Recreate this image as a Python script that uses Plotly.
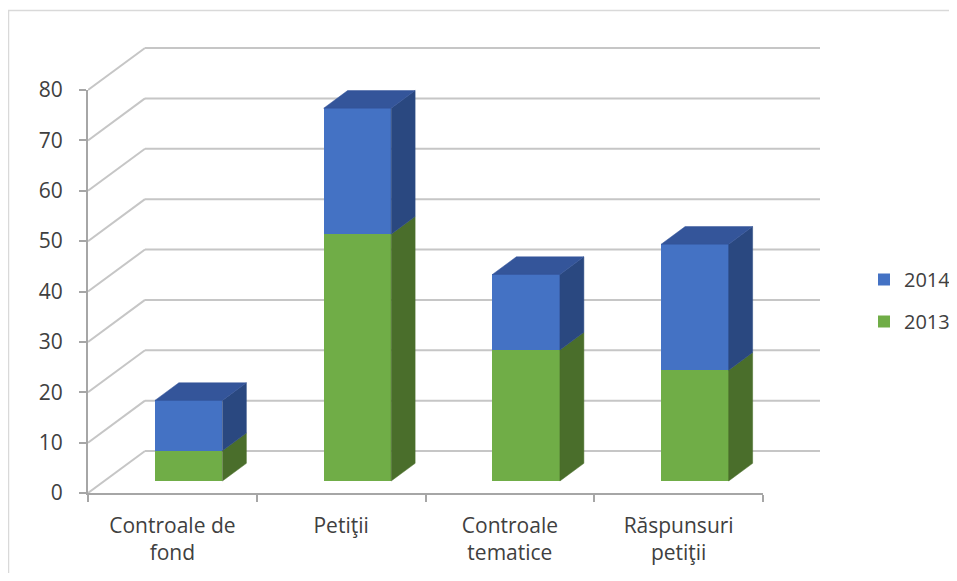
import plotly.graph_objects as go

# ---------------- data ----------------
categories = ["Controale de<br>fond", "Petiţii", "Controale<br>tematice", "Răspunsuri<br>petiţii"]
values_2013 = [6, 49, 26, 22]
values_2014 = [10, 25, 15, 25]
y_ticks = [0, 10, 20, 30, 40, 50, 60, 70, 80]

# ---------------- styling / geometry ----------------
# the page body adds an 8px margin, so the figure starts at screen (8, 8);
# keep the figure small enough that the page does not overflow
OFF = 8
W, H = 957 - 2 * OFF, 581 - 2 * OFF
PX_L, PX_R = 88 - OFF, 830 - OFF      # data plot area (pixels in figure)
PX_T, PX_B = 40 - OFF, 493 - OFF
AX_R = 763 - OFF                       # end of category axis
AX_T = 90 - OFF                        # top of value axis
PX_PER_CAT = (AX_R - PX_L) / 4.0
PX_PER_VAL = (PX_B - AX_T) / 80.0

DEPTH_X = 57 / PX_PER_CAT   # back-wall offset in data units
DEPTH_Y = 42 / PX_PER_VAL
FRONT_F = 0.286             # bar front position (fraction of depth)
BAR_DEPTH_F = 0.42          # bar depth (fraction of depth)
BAR_W = 0.40

BLUE, BLUE_TOP, BLUE_SIDE = "#4472C4", "#34559A", "#2A4880"
GREEN, GREEN_SIDE = "#70AD47", "#4A6E2B"
GRID = "#C6C6C6"
AXIS = "#A6A6A6"
TXT = "#404040"
FONT = "Open Sans"
FS = 21

x_range = [-0.5, -0.5 + (PX_R - PX_L) / PX_PER_CAT]
y_range = [0, (PX_B - PX_T) / PX_PER_VAL]

fdx, fdy = FRONT_F * DEPTH_X, FRONT_F * DEPTH_Y
bdx, bdy = BAR_DEPTH_F * DEPTH_X, BAR_DEPTH_F * DEPTH_Y

fig = go.Figure()

series = [("2013", values_2013, [0] * 4, GREEN, GREEN_SIDE, 2),
          ("2014", values_2014, values_2013, BLUE, BLUE_SIDE, 1)]

# front faces (real bars)
for name, vals, bases, col, _, rank in series:
    fig.add_trace(go.Bar(
        x=list(range(len(categories))), y=vals,
        base=[b + fdy for b in bases],
        offset=-BAR_W / 2 + fdx, width=BAR_W,
        marker=dict(color=col, line=dict(width=0)),
        name=name, legendgroup=name, legendrank=rank,
        xaxis="x", yaxis="y",
    ))

# side faces
for name, vals, bases, col, side, _ in series:
    for i, (v, b) in enumerate(zip(vals, bases)):
        xr = i - BAR_W / 2 + fdx + BAR_W
        y0 = b + fdy
        y1 = b + v + fdy
        fig.add_trace(go.Scatter(
            x=[xr, xr + bdx, xr + bdx, xr, xr],
            y=[y0, y0 + bdy, y1 + bdy, y1, y0],
            fill="toself", fillcolor=side, mode="lines",
            line=dict(width=0.5, color=side), showlegend=False,
            hoverinfo="skip", xaxis="x", yaxis="y"))

# top faces (top of each stack)
for i, (a, b) in enumerate(zip(values_2013, values_2014)):
    xl = i - BAR_W / 2 + fdx
    xr = xl + BAR_W
    t = a + b + fdy
    fig.add_trace(go.Scatter(
        x=[xl, xl + bdx, xr + bdx, xr, xl],
        y=[t, t + bdy, t + bdy, t, t],
        fill="toself", fillcolor=BLUE_TOP, mode="lines",
        line=dict(width=0.5, color=BLUE_TOP), showlegend=False,
        hoverinfo="skip", xaxis="x", yaxis="y"))

# dummy trace so the display-axis subplot exists
fig.add_trace(go.Scatter(x=[None], y=[None], xaxis="x2", yaxis="y2",
                         showlegend=False, hoverinfo="skip"))

# back wall gridlines + side-wall diagonals (behind bars)
shapes = []
for v in y_ticks:
    shapes.append(dict(type="line", xref="x", yref="y", layer="below",
                       x0=-0.5, y0=v, x1=-0.5 + DEPTH_X, y1=v + DEPTH_Y,
                       line=dict(color=GRID, width=2)))
    shapes.append(dict(type="line", xref="x", yref="y", layer="below",
                       x0=-0.5 + DEPTH_X, y0=v + DEPTH_Y,
                       x1=3.5 + DEPTH_X, y1=v + DEPTH_Y,
                       line=dict(color=GRID, width=2)))

# chart border (cropped like the reference)
pw, ph = PX_R - PX_L, PX_B - PX_T
shapes.append(dict(type="rect", xref="paper", yref="paper", layer="below",
                   x0=(8.5 - OFF - PX_L) / pw, x1=(W + 20 - PX_L) / pw,
                   y0=(PX_B - (H + 20)) / ph, y1=(PX_B - (10.5 - OFF)) / ph,
                   line=dict(color="#D9D9D9", width=1.5)))

fig.update_layout(
    width=W, height=H,
    margin=dict(l=PX_L, r=W - PX_R, t=PX_T, b=H - PX_B, autoexpand=False),
    paper_bgcolor="white", plot_bgcolor="rgba(0,0,0,0)",
    font=dict(family=FONT, size=FS, color=TXT),
    barmode="overlay", bargap=0,
    showlegend=True,
    legend=dict(x=(864 - OFF - PX_L) / pw, xanchor="left",
                y=(PX_B - (300.5 - OFF)) / ph, yanchor="middle",
                traceorder="grouped", tracegroupgap=13,
                font=dict(family=FONT, size=20, color=TXT),
                bgcolor="rgba(0,0,0,0)"),
    shapes=shapes,
    xaxis=dict(domain=[0, 1], range=x_range, anchor="y", automargin=False,
               tickmode="array", tickvals=list(range(len(categories))),
               ticktext=categories, ticks="", showline=False,
               showgrid=False, zeroline=False, ticklabelstandoff=18,
               tickfont=dict(family=FONT, size=FS, color=TXT)),
    yaxis=dict(domain=[0, 1], range=y_range, anchor="x", automargin=False,
               visible=False, showgrid=False, zeroline=False),
    xaxis2=dict(domain=[0, (AX_R - PX_L) / pw], range=[-0.5, 3.5], anchor="y2",
                automargin=False,
                tickmode="array", tickvals=[-0.5, 0.5, 1.5, 2.5, 3.5],
                showticklabels=False, ticks="outside", ticklen=7, tickwidth=2,
                tickcolor=AXIS, showline=True, linecolor=AXIS, linewidth=2,
                showgrid=False, zeroline=False),
    yaxis2=dict(domain=[0, (PX_B - AX_T) / ph], range=[0, 80], anchor="x2",
                automargin=False,
                tickmode="array", tickvals=y_ticks, ticks="outside", ticklen=7,
                tickwidth=2, tickcolor=AXIS, showline=True, linecolor=AXIS,
                linewidth=2, showgrid=False, zeroline=False,
                ticklabelstandoff=12,
                tickfont=dict(family=FONT, size=FS, color=TXT)),
)

fig.write_html("out.html")
